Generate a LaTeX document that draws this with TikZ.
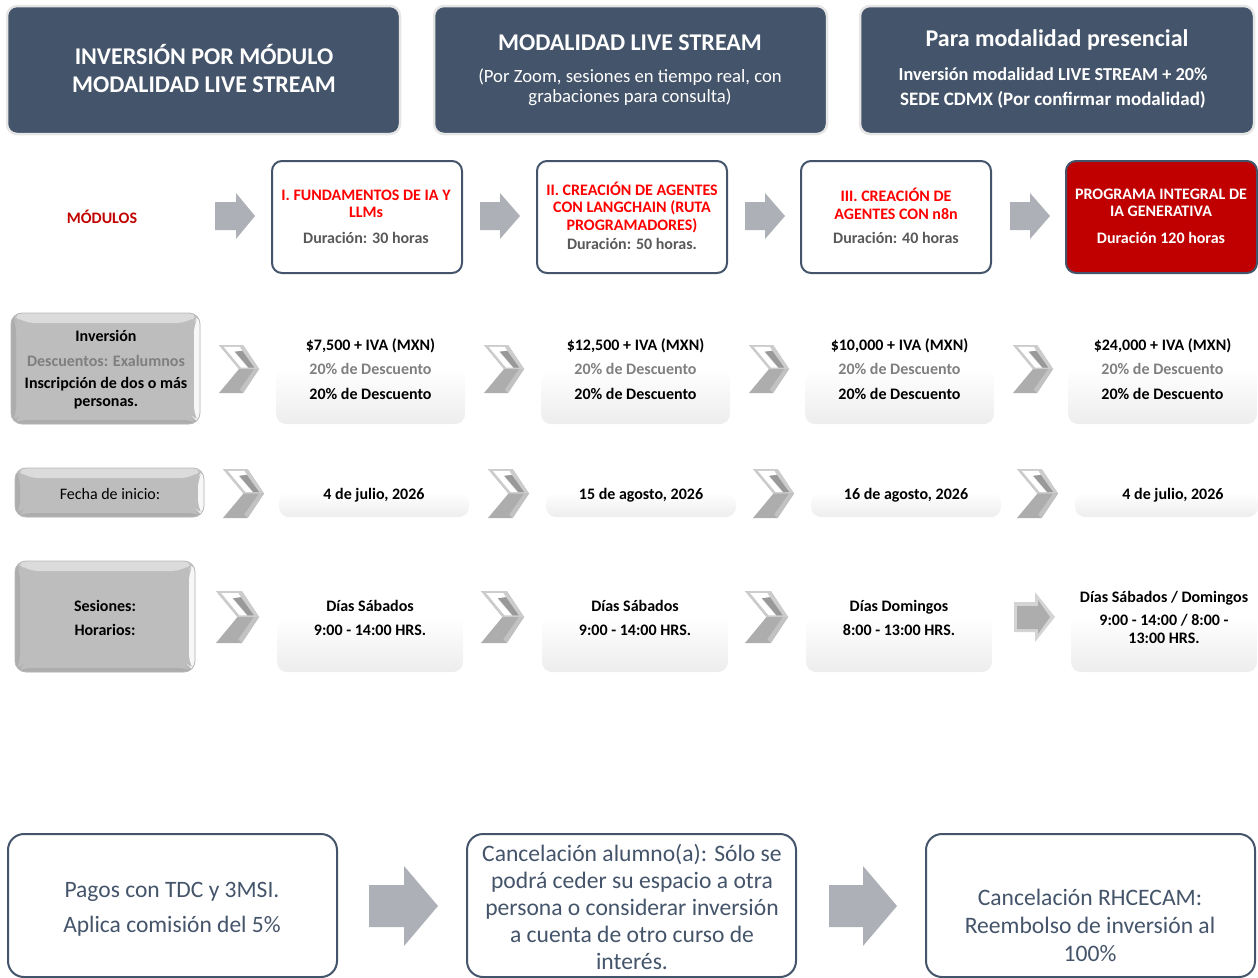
\documentclass[tikz,border=0pt]{standalone}
\usepackage{fontspec}
\setmainfont{Carlito}
\definecolor{navy}{HTML}{44546A}
\definecolor{ringgray}{HTML}{E7E6E6}
\definecolor{arrowgray}{HTML}{ADB0B7}
\definecolor{modred}{HTML}{FF0000}
\definecolor{darkred}{HTML}{C00000}
\definecolor{bevelgray}{HTML}{BDBDBD}
\definecolor{txtgray}{HTML}{7F7F7F}
\definecolor{midgray}{HTML}{595959}
\tikzset{
  every node/.style={inner sep=0pt,outer sep=0pt,align=center},
  headbox/.style={rounded corners=10pt,fill=navy,draw=ringgray,line width=2.5pt},
  modbox/.style={rounded corners=10pt,fill=white,draw=navy,line width=2pt},
  redbox/.style={modbox,fill=darkred},
  footbox/.style={rounded corners=16pt,fill=white,draw=navy,line width=2pt},
  graybox/.style={rounded corners=11pt,fill=bevelgray,draw=black!28,line width=.8pt,
    path picture={
      \coordinate (ll) at (path picture bounding box.south west);
      \coordinate (ur) at (path picture bounding box.north east);
      \fill[black!14] (ll|-ur) -- (ur) -- ([xshift=-12pt,yshift=-10pt]ur) -- ([xshift=12pt,yshift=-10pt]ll|-ur) -- cycle;
      \fill[black!32] (ll) -- (ll|-ur) -- ([xshift=5pt,yshift=-8pt]ll|-ur) -- ([xshift=5pt,yshift=5pt]ll) -- cycle;
      \fill[black!3] (ur) -- (ur|-ll) -- ([xshift=-6pt,yshift=6pt]ur|-ll) -- ([xshift=-6pt,yshift=-9pt]ur) -- cycle;
      \fill[black!32] (ll) -- (ur|-ll) -- ([xshift=-6pt,yshift=4pt]ur|-ll) -- ([xshift=5pt,yshift=4pt]ll) -- cycle;
    }},
  softbox/.style={rounded corners=10pt,
    path picture={
      \coordinate (ll) at (path picture bounding box.south west);
      \coordinate (ur) at (path picture bounding box.north east);
      \shade[top color=white,bottom color=black!7] (ll) rectangle ([yshift=-0.5*\softh pt]ur);
    }},
  mlab/.style={font=\bfseries\fontsize{16}{17.5}\selectfont},
  lab/.style={font=\bfseries\fontsize{16}{17.5}\selectfont,text height=11pt,text depth=3.5pt,yshift=-2.5pt},
  regularlab/.style={font=\fontsize{16}{17.5}\selectfont,text height=11pt,text depth=3.5pt,yshift=-2.5pt},
  chevbase/.style={fill=black!32},
  chevtop/.style={fill=black!20},
  chevwhite/.style={fill=white},
  chevinner/.style={fill=black!40},
  chevedge/.style={fill=black!24},
  blockarrow/.style={fill=arrowgray},
  bevelarrow/.style={fill=black!32},
  bevellight/.style={fill=black!17},
}
\def\softh{110}
% style, name, x1, x2, y1, y2
\newcommand\bx[6]{\node[#1,minimum width=#4pt-#3pt,minimum height=#6pt-#5pt] (#2) at ({(#3+#4)/2},{(#5+#6)/2}) {};}
% block arrow: name, x1, neck, x2, ymid, half head, half shaft
\newcommand\barrow[7]{\fill[blockarrow] (#2,#5-#7) -- (#3,#5-#7) -- (#3,#5-#6) -- (#4,#5) -- (#3,#5+#6) -- (#3,#5+#7) -- (#2,#5+#7) -- cycle; \coordinate (#1) at (#4,#5);}
% chevron: name, x1, x2, y1, y2
\newcommand\chev[5]{%
  \begin{scope}[shift={(#2,#4)},x=#3pt-#2pt,y=#4pt-#5pt]
  \fill[chevbase] (0,0) -- (.6,0) -- (1,.5) -- (.6,1) -- (0,1) -- (.5,.5) -- cycle;
  \fill[chevtop] (0,0) -- (.6,0) -- (1,.5) -- (.5,.5) -- cycle;
  \fill[chevwhite] (.12,.04) -- (.52,.04) -- (.58,.12) -- (.38,.14) -- (.72,.47) -- (.55,.47) -- cycle;
  \fill[chevinner] (.4,.14) -- (.58,.12) -- (.88,.47) -- (.74,.47) -- cycle;
  \fill[chevedge] (.88,.5) -- (1,.5) -- (.6,1) -- (.52,.93) -- cycle;
  \end{scope}
  \coordinate (#1) at (#3,{(#4+#5)/2});}
\begin{document}
\begin{tikzpicture}[x=1pt,y=-1pt]
\useasboundingbox (0,0) rectangle (1258,977);
% headers
\bx{headbox}{h1}{7}{400}{6}{134}
\bx{headbox}{h2}{434}{827}{6}{134}
\bx{headbox}{h3}{860}{1254}{6}{134}
\node[text=white,font=\bfseries\fontsize{24}{28}\selectfont] (h1t) at (204,69) {INVERSIÓN POR MÓDULO\\MODALIDAD LIVE STREAM};
\node[text=white,font=\bfseries\fontsize{24}{26}\selectfont] (h2t) at (630,43) {MODALIDAD LIVE STREAM};
\node[text=white,font=\fontsize{18.7}{20}\selectfont] (h2s) at (630,87) {(Por Zoom, sesiones en tiempo real, con\\grabaciones para consulta)};
\node[text=white,font=\bfseries\fontsize{24}{26}\selectfont] (h3t) at (1057,40) {Para modalidad presencial};
\node[text=white,font=\bfseries\fontsize{18.3}{20}\selectfont] (h3a) at (1053,74) {Inversión modalidad LIVE STREAM + 20\%};
\node[text=white,font=\bfseries\fontsize{19}{20}\selectfont] (h3b) at (1053,100) {SEDE CDMX (Por confirmar modalidad)};
% modules
\node[lab,text=darkred] (mlabel) at (102,217) {MÓDULOS};
\barrow{ma1}{215}{236}{255}{216}{23}{14}
\bx{modbox}{m1}{272}{462}{161}{273}
\barrow{ma2}{480}{500}{520}{216}{23}{14}
\bx{modbox}{m2}{537}{727}{161}{273}
\barrow{ma3}{745}{765}{785}{216}{23}{14}
\bx{modbox}{m3}{801}{991}{161}{273}
\barrow{ma4}{1010}{1030}{1050}{216}{23}{14}
\bx{redbox}{m4}{1066}{1257}{161}{273}
\node[mlab,text=modred] (m1t) at (366,204) {I. FUNDAMENTOS DE IA Y\\LLMs};
\node[lab,text=midgray] (m1d) at (366,237) {Duración: 30 horas};
\node[mlab,text=modred] (m2t) at (632,207) {II. CREACIÓN DE AGENTES\\CON LANGCHAIN (RUTA\\PROGRAMADORES)};
\node[lab,text=midgray] (m2d) at (632,243) {Duración: 50 horas.};
\node[mlab,text=modred] (m3t) at (896,204) {III. CREACIÓN DE\\AGENTES CON n8n};
\node[lab,text=midgray] (m3d) at (896,237) {Duración: 40 horas};
\node[mlab,text=white] (m4t) at (1161,203) {PROGRAMA INTEGRAL DE\\IA GENERATIVA};
\node[lab,text=white] (m4d) at (1161,237) {Duración 120 horas};
% row 2
\bx{graybox}{r2}{11}{200}{313}{424}
\node[lab] (r2a) at (106,335) {Inversión};
\node[lab,text=txtgray] (r2b) at (106,360) {Descuentos: Exalumnos};
\node[mlab] (r2c) at (106,393) {Inscripción de dos o más\\personas.};
\def\softh{111}
\foreach \n/\xa/\xb/\ca/\cb/\p in {1/276/465/219/259/{\$7,500},2/541/730/484/524/{\$12,500},3/805/994/749/789/{\$10,000},4/1068/1257/1013/1053/{\$24,000}}{
  \chev{r2c\n}{\ca}{\cb}{345}{393}
  \bx{softbox}{r2w\n}{\xa}{\xb}{313}{424}
  \node[lab] (r2p\n) at ({(\xa+\xb)/2},344) {\p{} + IVA (MXN)};
  \node[lab,text=txtgray] (r2d\n) at ({(\xa+\xb)/2},368) {20\% de Descuento};
  \node[lab] (r2e\n) at ({(\xa+\xb)/2},393) {20\% de Descuento};
}
% row 3
\bx{graybox}{r3}{15}{204}{468}{517}
\node[regularlab] (r3t) at (110,493) {Fecha de inicio:};
\def\softh{49}
\foreach \n/\xa/\xb/\ca/\cb/\cx/\p in {1/279/469/223/264/374/{4 de julio, 2026},2/546/736/488/529/641/{15 de agosto, 2026},3/811/1001/753/794/906/{16 de agosto, 2026},4/1075/1258/1017/1058/1173/{4 de julio, 2026}}{
  \chev{r3c\n}{\ca}{\cb}{469}{518}
  \bx{softbox}{r3w\n}{\xa}{\xb}{468}{517}
  \node[lab] (r3p\n) at (\cx,493) {\p};
}
% row 4
\bx{graybox}{r4}{15}{195}{561}{672}
\node[lab] (r4a) at (105,605) {Sesiones:};
\node[lab] (r4b) at (105,629) {Horarios:};
\def\softh{111}
\foreach \n/\xa/\xb/\ca/\cb/\d/\h in {1/277/463/216/259/{Días Sábados}/{9:00 - 14:00 HRS.},2/542/728/481/524/{Días Sábados}/{9:00 - 14:00 HRS.},3/806/992/745/788/{Días Domingos}/{8:00 - 13:00 HRS.}}{
  \chev{r4c\n}{\ca}{\cb}{591}{643}
  \bx{softbox}{r4w\n}{\xa}{\xb}{561}{672}
  \node[lab] (r4d\n) at ({(\xa+\xb)/2},605) {\d};
  \node[lab] (r4h\n) at ({(\xa+\xb)/2},629) {\h};
}
\bx{softbox}{r4w4}{1071}{1257}{561}{672}
\fill[bevellight] (1014,602) -- (1035,602) -- (1035,592) -- (1055,617) -- (1035,642) -- (1035,632) -- (1014,632) -- cycle;
\fill[bevelarrow] (1017,606) -- (1038,606) -- (1038,600) -- (1050,617) -- (1038,634) -- (1038,629) -- (1017,629) -- cycle;
\coordinate (r4a4) at (1055,617);
\node[lab] (r4d4) at (1164,596) {Días Sábados / Domingos};
\node[mlab] (r4h4) at (1164,629) {9:00 - 14:00 / 8:00 -\\13:00 HRS.};
% footer
\bx{footbox}{f1}{8}{337}{834}{977}
\bx{footbox}{f2}{467}{796}{834}{977}
\bx{footbox}{f3}{926}{1255}{834}{977}
\barrow{fa1}{369}{404}{438}{906}{40}{21}
\barrow{fa2}{829}{863}{897}{906}{40}{21}
\node[text=navy,font=\fontsize{23.5}{29}\selectfont] (f1t) at (172,909) {Pagos con TDC y 3MSI.\\[6pt]Aplica comisión del 5\%};
\node[text=navy,font=\fontsize{23.6}{27}\selectfont] (f2t) at (632,907) {Cancelación alumno(a): Sólo se\\podrá ceder su espacio a otra\\persona o considerar inversión\\a cuenta de otro curso de\\interés.};
\node[text=navy,font=\fontsize{23.6}{28}\selectfont] (f3t) at (1090,925) {Cancelación RHCECAM:\\Reembolso de inversión al\\100\%};
\end{tikzpicture}
\end{document}
